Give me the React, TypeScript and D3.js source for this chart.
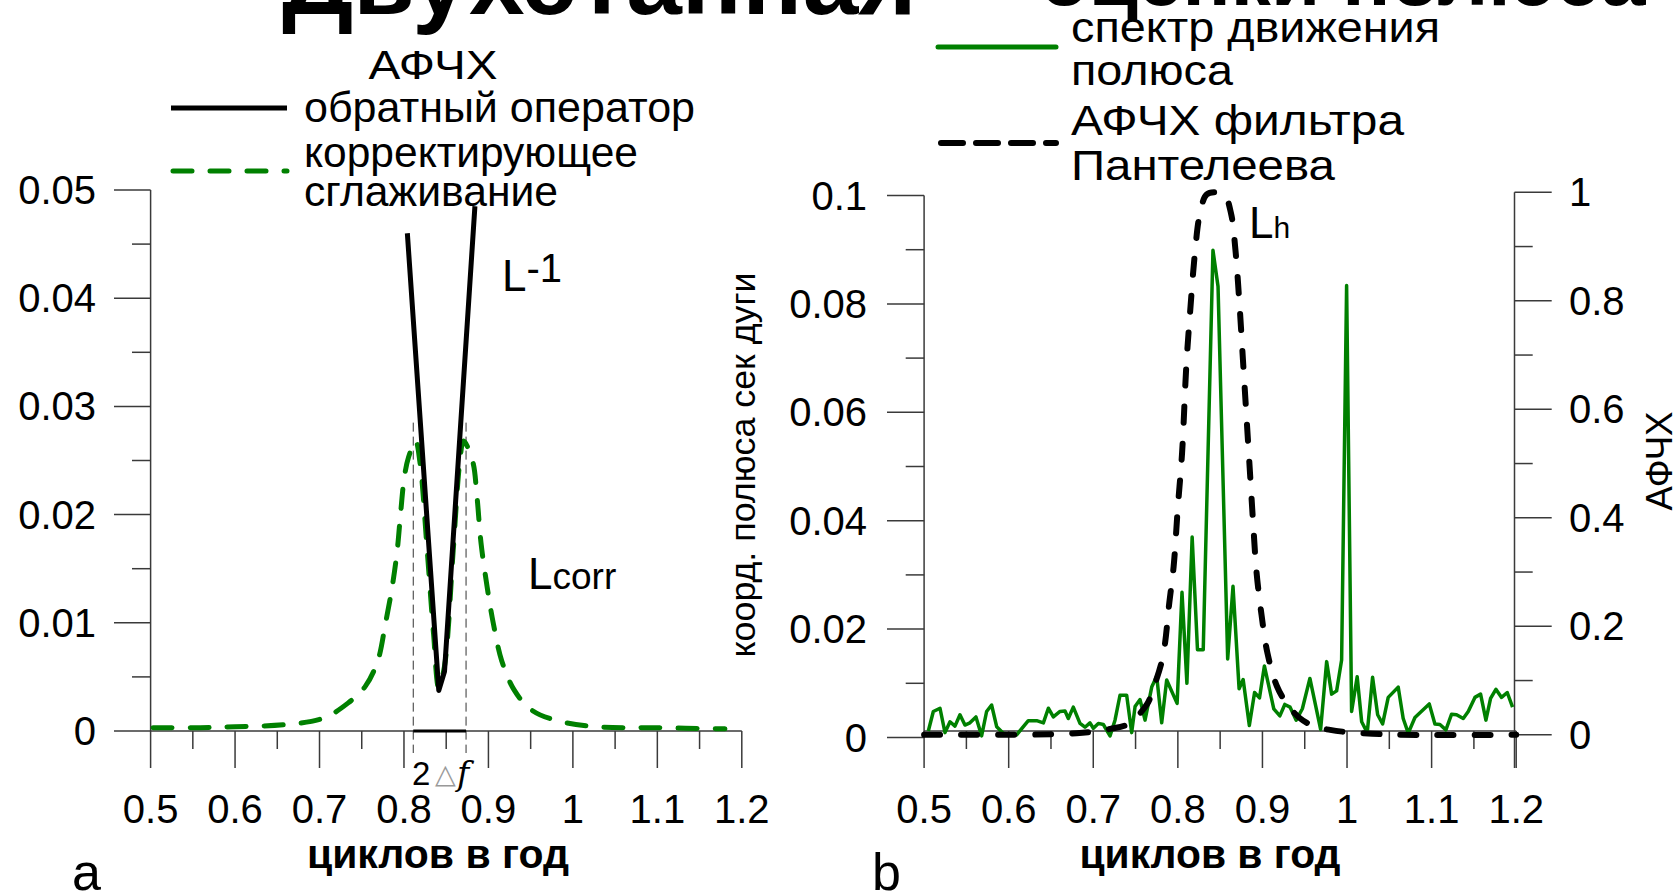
import React from "react";
import * as d3 from "d3";

const W = 1675;
const H = 896;
const GREEN = "#008000";
const FONT = "'Liberation Sans', Arial, sans-serif";

// axis ticks
const xTicks = [0.5, 0.6, 0.7, 0.8, 0.9, 1, 1.1, 1.2];
const xMinor = [0.55, 0.65, 0.75, 0.85, 0.95, 1.05, 1.15];
const yTicksA = [0, 0.01, 0.02, 0.03, 0.04, 0.05];
const yMinorA = [0.005, 0.015, 0.025, 0.035, 0.045];
const yTicksB = [0, 0.02, 0.04, 0.06, 0.08, 0.1];
const yMinorB = [0.01, 0.03, 0.05, 0.07, 0.09];
const yTicksR = [0, 0.2, 0.4, 0.6, 0.8, 1];
const yMinorR = [0.1, 0.3, 0.5, 0.7, 0.9];

// panel a: inverse operator L^-1
const inverseFreq = [0.804, 0.8412, 0.848, 0.884];
const inverseAmp = [0.046, 0.00375, 0.0055, 0.0485];

// panel a: corrective smoothing Lcorr
const corrFreq = [
  0.503, 0.55, 0.6, 0.661, 0.705, 0.734, 0.754, 0.769, 0.778, 0.786, 0.792, 0.796, 0.8005, 0.8054,
  0.8137, 0.819, 0.8275, 0.835, 0.8412, 0.848, 0.8583, 0.866, 0.8706, 0.8814, 0.8863, 0.8912,
  0.8985, 0.9059, 0.9157, 0.9304, 0.95, 0.979, 1.028, 1.1, 1.18,
];
const corrAmp = [
  0.0003, 0.0003, 0.0004, 0.0006, 0.0012, 0.0026, 0.0041, 0.0065, 0.0099, 0.0133, 0.0167, 0.0201,
  0.0235, 0.0253, 0.0268, 0.0248, 0.0167, 0.009, 0.004, 0.006, 0.0167, 0.0248, 0.0268, 0.0249,
  0.0218, 0.0174, 0.0133, 0.0099, 0.0065, 0.0038, 0.002, 0.001, 0.0004, 0.0003, 0.0002,
];
const bandEdges = [0.811, 0.8735];

// panel b: Panteleev filter response (right axis)
const filterFreq = [
  0.5, 0.6, 0.65, 0.68, 0.7, 0.72, 0.74, 0.763, 0.772, 0.7824, 0.79, 0.795, 0.8, 0.805, 0.81, 0.815,
  0.82, 0.826, 0.834, 0.845, 0.855, 0.863, 0.868, 0.873, 0.877, 0.881, 0.885, 0.889, 0.893, 0.899,
  0.906, 0.917, 0.929, 0.944, 0.962, 0.98, 1.0, 1.03, 1.06, 1.2,
];
const filterAmp = [
  0, 0, 0.001, 0.003, 0.006, 0.011, 0.019, 0.055, 0.09, 0.145, 0.245, 0.31, 0.42, 0.52, 0.68, 0.79,
  0.885, 0.96, 0.996, 1.0, 0.996, 0.96, 0.895, 0.79, 0.69, 0.59, 0.49, 0.39, 0.3, 0.22, 0.15, 0.09,
  0.057, 0.031, 0.015, 0.009, 0.005, 0.002, 0, 0,
];

// panel b: pole motion spectrum (left axis)
const spectrumFreq = [
  0.505, 0.5109, 0.5188, 0.5247, 0.5306, 0.5365, 0.5424, 0.5483, 0.5542, 0.5613, 0.568, 0.5739,
  0.5798, 0.5858, 0.5936, 0.6015, 0.6094, 0.6232, 0.6331, 0.641, 0.6469, 0.6528, 0.6607, 0.6666,
  0.6705, 0.6764, 0.6843, 0.6902, 0.6961, 0.7001, 0.706, 0.7119, 0.7198, 0.7257, 0.7316, 0.7395,
  0.7454, 0.7494, 0.7553, 0.7612, 0.7691, 0.775, 0.7809, 0.7868, 0.7991, 0.8049, 0.8107, 0.8169,
  0.8232, 0.83, 0.8415, 0.8475, 0.8589, 0.8652, 0.8724, 0.8772, 0.8845, 0.8907, 0.8965, 0.9023,
  0.9134, 0.9206, 0.9264, 0.9327, 0.9399, 0.9472, 0.9561, 0.9688, 0.9759, 0.9818, 0.9877, 0.9936,
  0.9995, 1.0054, 1.012, 1.0173, 1.0239, 1.0302, 1.0362, 1.0421, 1.0487, 1.0605, 1.0664, 1.0724,
  1.0803, 1.0972, 1.1039, 1.1098, 1.1169, 1.1236, 1.1295, 1.1374, 1.1433, 1.1512, 1.1579, 1.1642,
  1.1697, 1.176, 1.1827, 1.1894, 1.1957,
];
const spectrumAmp = [
  0.0012, 0.0048, 0.0054, 0.0009, 0.0029, 0.0021, 0.0042, 0.0023, 0.0027, 0.0038, 0.0003, 0.0048,
  0.006, 0.002, 0.0008, 0.0005, 0.0005, 0.0031, 0.0031, 0.0027, 0.0054, 0.0038, 0.0048, 0.0049,
  0.0035, 0.0056, 0.0026, 0.0019, 0.0027, 0.0017, 0.0026, 0.0024, 0.0003, 0.0032, 0.0078, 0.0078,
  0.0009, 0.0057, 0.007, 0.0032, 0.0093, 0.0113, 0.0027, 0.0106, 0.0063, 0.0268, 0.01, 0.037,
  0.0162, 0.0162, 0.0899, 0.0832, 0.0145, 0.0279, 0.009, 0.0107, 0.0022, 0.0083, 0.0073, 0.0132,
  0.0053, 0.004, 0.0061, 0.0056, 0.0032, 0.0053, 0.0109, 0.0015, 0.014, 0.008, 0.0086, 0.0143,
  0.0834, 0.0048, 0.0112, 0.0029, 0.0009, 0.0111, 0.0042, 0.0025, 0.0074, 0.0093, 0.0035, 0.0008,
  0.0037, 0.0062, 0.0025, 0.0024, 0.0014, 0.0043, 0.0042, 0.0035, 0.0048, 0.0074, 0.008, 0.0032,
  0.0072, 0.0089, 0.0074, 0.0083, 0.0056,
];

const xA = d3.scaleLinear().domain([0.5, 1.2]).range([150.6, 741.8]);
const yA = d3.scaleLinear().domain([0, 0.05]).range([731, 190]);
const xB = d3.scaleLinear().domain([0.5, 1.2]).range([924.1, 1516.2]);
const yBL = d3.scaleLinear().domain([0, 0.1]).range([737.5, 195.5]);
const yBR = d3.scaleLinear().domain([0, 1]).range([734.8, 192.3]);

const AXIS = "#3a3a3a";
const fmt = (v: number) => String(v);

function pathOf(fx: number[], fy: number[], sx: any, sy: any, curve: any) {
  const pts = fx.map((f, i) => [f, fy[i]] as [number, number]);
  return d3
    .line<[number, number]>()
    .x((d) => sx(d[0]))
    .y((d) => sy(d[1]))
    .curve(curve)(pts) as string;
}

// wide text: the source font runs wider than Liberation Sans
const Wide = (p: any) => <text lengthAdjust="spacingAndGlyphs" {...p} />;

const XAxis = ({ sx, y0 }: { sx: any; y0: number }) => (
  <g>
    <line x1={sx(0.5)} x2={sx(1.2)} y1={y0} y2={y0} stroke={AXIS} strokeWidth={1.5} />
    {xTicks.map((t) => (
      <g key={t}>
        <line x1={sx(t)} x2={sx(t)} y1={y0} y2={768} stroke={AXIS} strokeWidth={1.5} />
        <text x={sx(t)} y={823} textAnchor="middle" fontSize={40}>
          {fmt(t)}
        </text>
      </g>
    ))}
    {xMinor.map((t) => (
      <line key={t} x1={sx(t)} x2={sx(t)} y1={y0} y2={749} stroke={AXIS} strokeWidth={1.5} />
    ))}
  </g>
);

const App = () => {
  const invPath = pathOf(inverseFreq, inverseAmp, xA, yA, d3.curveLinear);
  const corrPath = pathOf(corrFreq, corrAmp, xA, yA, d3.curveCatmullRom);
  const filterPath = pathOf(filterFreq, filterAmp, xB, yBR, d3.curveCatmullRom);
  const specPath = pathOf(spectrumFreq, spectrumAmp, xB, yBL, d3.curveLinear);

  return (
    <svg
      width={W}
      height={H}
      style={{ position: "absolute", left: 0, top: 0, display: "block", background: "#fff" }}
      fontFamily={FONT}
    >
      <rect width={W} height={H} fill="#fff" />
      {/* slide title, mostly above the top edge */}
      <text x={282} y={14} fontSize={100} fontWeight="bold">
        Двухэтапная
      </text>
      <text x={1040} y={5} fontSize={80} fontWeight="bold">
        оценки полюса
      </text>

      {/* ---------- panel a ---------- */}
      <Wide x={433} y={79} textAnchor="middle" fontSize={40} textLength={129}>
        АФЧХ
      </Wide>
      <line x1={171} x2={287} y1={108} y2={108} stroke="#000" strokeWidth={5} />
      <Wide x={304} y={122} fontSize={42} textLength={391}>
        обратный оператор
      </Wide>
      <line
        x1={173}
        x2={287}
        y1={171}
        y2={171}
        stroke={GREEN}
        strokeWidth={5}
        strokeDasharray="19 18"
        strokeLinecap="round"
      />
      <Wide x={304} y={167} fontSize={42} textLength={334}>
        корректирующее
      </Wide>
      <Wide x={304} y={206} fontSize={42} textLength={254}>
        сглаживание
      </Wide>

      <line x1={xA(0.5)} x2={xA(0.5)} y1={yA(0.05)} y2={731} stroke={AXIS} strokeWidth={1.5} />
      {yTicksA.map((t) => (
        <g key={t}>
          <line x1={114} x2={xA(0.5)} y1={yA(t)} y2={yA(t)} stroke={AXIS} strokeWidth={1.5} />
          <text x={96} y={yA(t) + 14} textAnchor="end" fontSize={40}>
            {fmt(t)}
          </text>
        </g>
      ))}
      {yMinorA.map((t) => (
        <line key={t} x1={132} x2={xA(0.5)} y1={yA(t)} y2={yA(t)} stroke={AXIS} strokeWidth={1.5} />
      ))}
      <XAxis sx={xA} y0={731} />

      {bandEdges.map((f) => (
        <line
          key={f}
          x1={xA(f)}
          x2={xA(f)}
          y1={yA(0.0285)}
          y2={753}
          stroke="#333"
          strokeWidth={1}
          strokeDasharray="9 5"
        />
      ))}
      <line x1={xA(bandEdges[0])} x2={xA(bandEdges[1])} y1={731} y2={731} stroke="#000" strokeWidth={3} />

      <path
        d={corrPath}
        fill="none"
        stroke={GREEN}
        strokeWidth={5}
        strokeDasharray="19 18"
        strokeLinecap="round"
      />
      <path d={invPath} fill="none" stroke="#000" strokeWidth={5} strokeLinejoin="round" />

      <text x={502} y={291} fontSize={44}>
        L
        <tspan fontSize={40} dy={-9}>
          -1
        </tspan>
      </text>
      <text x={528} y={589} fontSize={44}>
        L<tspan fontSize={37}>corr</tspan>
      </text>

      <text x={412} y={785} fontSize={33}>
        2
      </text>
      <text x={435} y={783} fontSize={27} fill="#999" fontFamily="'DejaVu Sans', sans-serif">
        △
      </text>
      <text x={457} y={785} fontSize={33} fontStyle="italic" fontFamily="'DejaVu Serif', serif">
        f
      </text>

      <Wide x={438} y={868} textAnchor="middle" fontSize={40} fontWeight="bold" textLength={262}>
        циклов в год
      </Wide>
      <text x={72} y={890} fontSize={52}>
        a
      </text>

      {/* ---------- panel b ---------- */}
      <line x1={938} x2={1056} y1={47} y2={47} stroke={GREEN} strokeWidth={5} strokeLinecap="round" />
      <Wide x={1071} y={42} fontSize={42} textLength={369}>
        спектр движения
      </Wide>
      <Wide x={1071} y={85} fontSize={42} textLength={162}>
        полюса
      </Wide>
      <line
        x1={941}
        x2={1056}
        y1={143}
        y2={143}
        stroke="#000"
        strokeWidth={6}
        strokeDasharray="22 13"
        strokeLinecap="round"
      />
      <Wide x={1071} y={135} fontSize={42} textLength={333}>
        АФЧХ фильтра
      </Wide>
      <Wide x={1071} y={180} fontSize={42} textLength={264}>
        Пантелеева
      </Wide>

      {/* left axis */}
      <line x1={xB(0.5)} x2={xB(0.5)} y1={yBL(0.1)} y2={737.5} stroke={AXIS} strokeWidth={1.5} />
      {yTicksB.map((t) => (
        <g key={t}>
          <line x1={887} x2={xB(0.5)} y1={yBL(t)} y2={yBL(t)} stroke={AXIS} strokeWidth={1.5} />
          <text x={867} y={yBL(t) + 14} textAnchor="end" fontSize={40}>
            {fmt(t)}
          </text>
        </g>
      ))}
      {yMinorB.map((t) => (
        <line key={t} x1={905.7} x2={xB(0.5)} y1={yBL(t)} y2={yBL(t)} stroke={AXIS} strokeWidth={1.5} />
      ))}
      <Wide transform="translate(755,465) rotate(-90)" textAnchor="middle" fontSize={35} textLength={385}>
        коорд. полюса сек дуги
      </Wide>

      {/* right axis */}
      <line x1={1514.5} x2={1514.5} y1={yBR(1)} y2={768} stroke={AXIS} strokeWidth={1.5} />
      {yTicksR.map((t) => (
        <g key={t}>
          <line x1={1514.5} x2={1551.7} y1={yBR(t)} y2={yBR(t)} stroke={AXIS} strokeWidth={1.5} />
          <text x={1569} y={yBR(t) + 14} fontSize={40}>
            {fmt(t)}
          </text>
        </g>
      ))}
      {yMinorR.map((t) => (
        <line key={t} x1={1514.5} x2={1532.7} y1={yBR(t)} y2={yBR(t)} stroke={AXIS} strokeWidth={1.5} />
      ))}
      <Wide transform="translate(1672,461) rotate(-90)" textAnchor="middle" fontSize={37} textLength={99}>
        АФЧХ
      </Wide>

      <XAxis sx={xB} y0={731} />

      <path d={specPath} fill="none" stroke={GREEN} strokeWidth={3.5} strokeLinejoin="round" />
      <path
        d={filterPath}
        fill="none"
        stroke="#000"
        strokeWidth={6}
        strokeDasharray="16 21"
        strokeLinecap="round"
      />

      <text x={1249} y={238} fontSize={44}>
        L<tspan fontSize={30}>h</tspan>
      </text>

      <Wide x={1210} y={868} textAnchor="middle" fontSize={40} fontWeight="bold" textLength={261}>
        циклов в год
      </Wide>
      <text x={872} y={890} fontSize={52}>
        b
      </text>
    </svg>
  );
};

export default App;
